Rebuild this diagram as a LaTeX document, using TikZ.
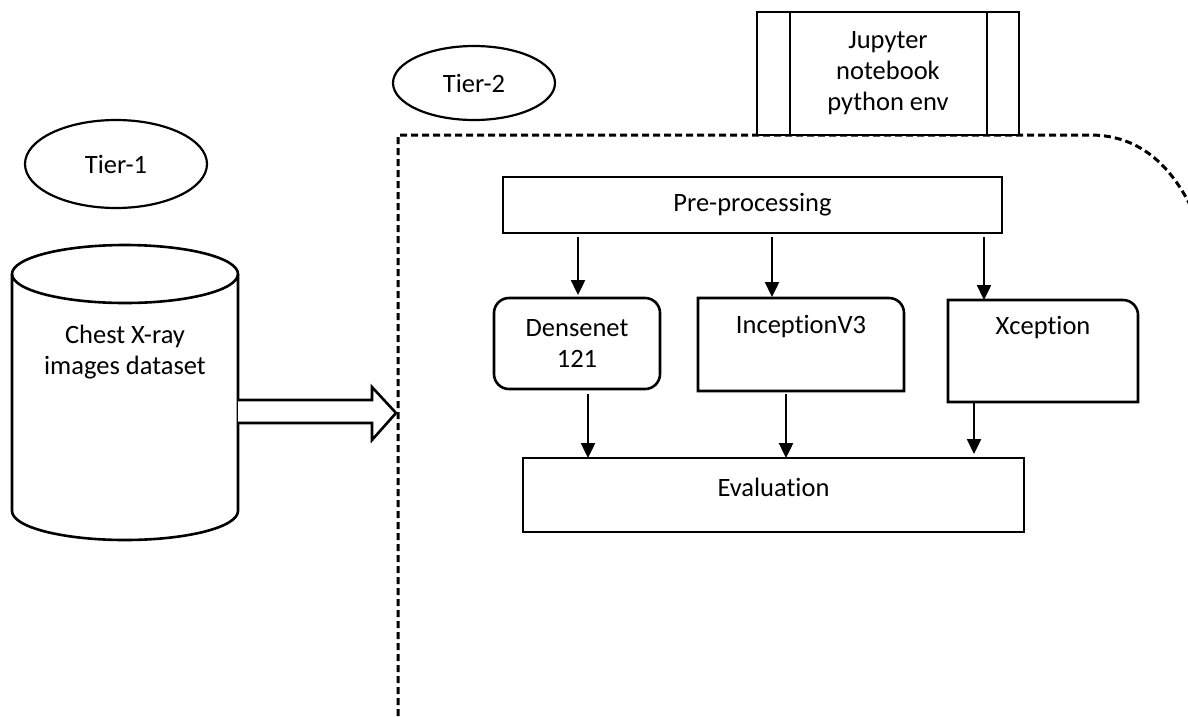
\documentclass[tikz,border=0pt]{standalone}
\usepackage{fontspec}
\setmainfont{Carlito}[Ligatures={NoCommon}]
\usetikzlibrary{arrows.meta,calc,shapes.geometric}
\begin{document}
\begin{tikzpicture}[x=1pt,y=-1pt,
  every node/.style={font=\fontsize{26.5}{31}\selectfont},
  ln/.style={line width=2.6pt},
  box/.style={ln, draw, rectangle, inner sep=0pt, outer sep=0pt, align=center},
  frame/.style={rectangle, inner sep=0pt, outer sep=0pt},
  txt/.style={align=center, inner sep=0pt},
  arr/.style={line width=2.4pt, -{Triangle[length=15pt,width=14pt]}},
  tier/.style={draw, ellipse, line width=2.2pt, inner sep=0pt},
  bound/.style={line width=3pt, dash pattern=on 7pt off 4pt}]
\useasboundingbox (0,0) rectangle (1188,716);

% tiers
\node[tier, minimum width=182pt, minimum height=88pt] (t1) at (116,164) {Tier-1};
\node[tier, minimum width=162pt, minimum height=74pt] (t2) at (474,83) {Tier-2};

% dashed tier-2 boundary
\draw[bound] (398,716) -- (398,135) -- (1090,135) .. controls (1135,135) and (1172,160) .. (1198,222);

% jupyter box
\node[box, minimum width=262pt, minimum height=123pt, fill=white] (jup) at (888,73.5) {Jupyter\\notebook\\python env};
\draw[ln] ([xshift=33pt]jup.north west) -- ([xshift=33pt]jup.south west);
\draw[ln] ([xshift=-32pt]jup.north east) -- ([xshift=-32pt]jup.south east);

% dataset cylinder
\node[txt] (db) at (125,352) {Chest X-ray\\images dataset};
\draw[ln] (12,274) -- (12,511) arc[start angle=180,end angle=360,x radius=113pt,y radius=29pt] -- (238,274);
\draw[ln] (125,274) ellipse[x radius=113pt, y radius=29pt];

% hollow arrow into tier-2
\coordinate (dbe) at (238,411.5);
\coordinate (tip) at (396,413);
\draw[ln, fill=white] ($(dbe)+(0,-11.5)$) -- ($(tip)+(-24,-13)$) -- ($(tip)+(-24,-26)$) -- (tip) -- ($(tip)+(-24,27)$) -- ($(tip)+(-24,10)$) -- ($(dbe)+(0,11.5)$);

% pre-processing
\node[box, minimum width=499pt, minimum height=56pt] (pre) at (752.5,205) {Pre-processing};

% models
\node[box, rounded corners=15pt, minimum width=166pt, minimum height=91pt] (dense) at (577,343.5) {Densenet\\121};

\node[frame, minimum width=206pt, minimum height=93pt] (incep) at (801,344.5) {};
\draw[ln] (incep.south west) -- (incep.north west) -- ([xshift=-15pt]incep.north east) arc[start angle=90,end angle=0,radius=15pt] -- (incep.south east) -- cycle;
\node[txt] at (801,327) {InceptionV3};

\node[frame, minimum width=190pt, minimum height=102pt] (xcep) at (1043,351) {};
\draw[ln] (xcep.south west) -- (xcep.north west) -- ([xshift=-15pt]xcep.north east) arc[start angle=90,end angle=0,radius=15pt] -- (xcep.south east) -- cycle;
\node[txt] at (1043,328) {Xception};

% evaluation
\node[box, minimum width=501pt, minimum height=74pt] (eval) at (773.5,495) {};
\node[txt] at (773.5,487) {Evaluation};

% arrows
\coordinate (a1) at (578,0);
\coordinate (a2) at (772,0);
\coordinate (a3) at (984,0);
\draw[arr, shorten <=4pt, shorten >=3pt] (pre.south -| a1) -- (dense.north -| a1);
\draw[arr, shorten <=4pt, shorten >=1pt] (pre.south -| a2) -- (incep.north -| a2);
\draw[arr, shorten <=4pt, shorten >=0pt] (pre.south -| a3) -- (xcep.north -| a3);

\coordinate (b1) at (588,0);
\coordinate (b2) at (786,0);
\coordinate (b3) at (974,0);
\draw[arr, shorten <=5pt] (dense.south -| b1) -- (eval.north -| b1);
\draw[arr, shorten <=3pt] (incep.south -| b2) -- (eval.north -| b2);
\draw[arr, shorten >=4pt] (xcep.south -| b3) -- (eval.north -| b3);
\end{tikzpicture}
\end{document}
